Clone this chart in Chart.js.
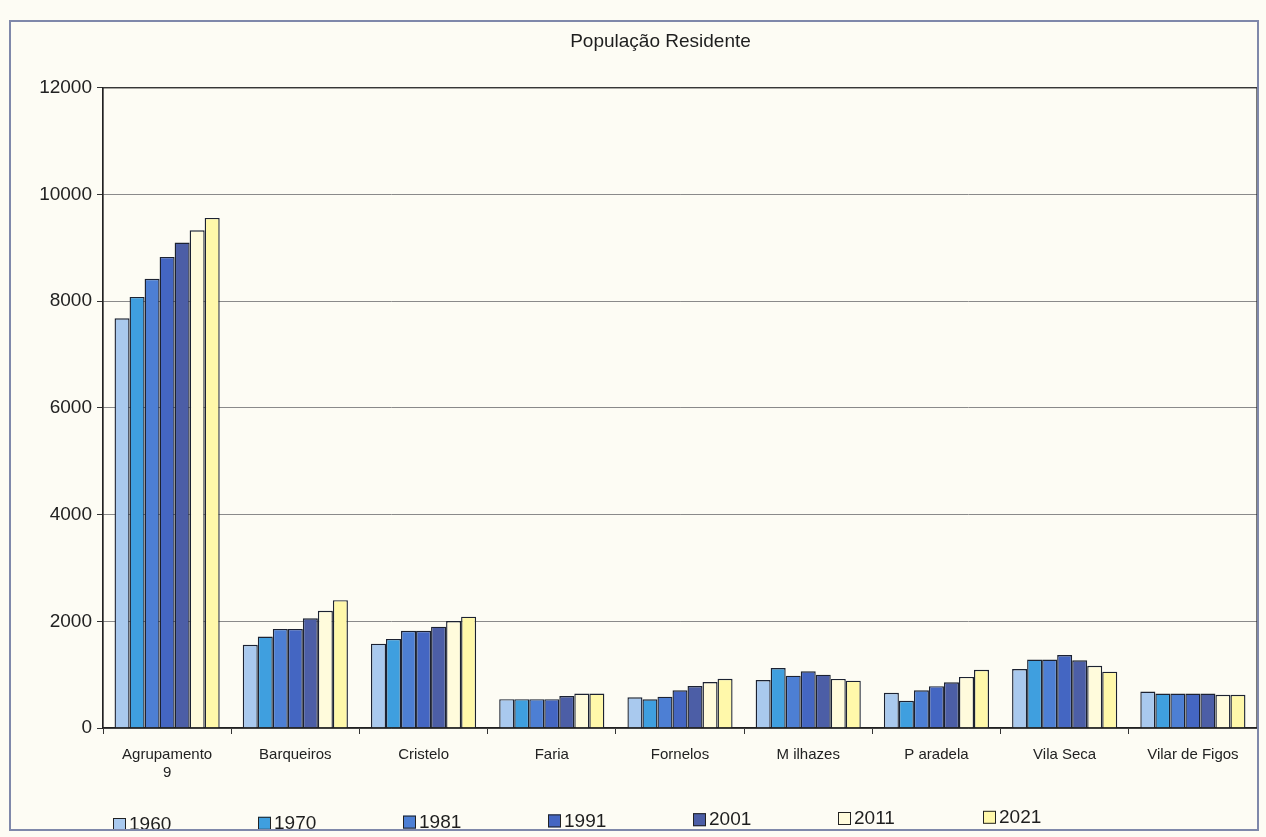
<!DOCTYPE html>
<html>
<head>
<meta charset="utf-8">
<script src="https://cdn.jsdelivr.net/npm/chart.js@4"></script>
<style>
  html, body { margin: 0; padding: 0; background: #fdfcf4; }
  #wrap { position: relative; width: 1266px; height: 837px; }
  #frame { position: absolute; left: 9px; top: 20px; width: 1250px; height: 811px;
           border: 2px solid #7f88aa; box-sizing: border-box; pointer-events: none; }
  canvas { position: absolute; left: 0; top: 0; }
</style>
</head>
<body>
<div id="wrap">
  <canvas id="chart" width="1266" height="837"></canvas>
  <div id="frame"></div>
</div>
<script>
/* População Residente — grouped bars, one series per census year */
const FREGUESIAS = [['Agrupamento', '9'], 'Barqueiros', 'Cristelo', 'Faria', 'Fornelos',
                    'M ilhazes', 'P aradela', 'Vila Seca', 'Vilar de Figos'];
const YEARS = ['1960', '1970', '1981', '1991', '2001', '2011', '2021'];
const Y_TICKS = [0, 2000, 4000, 6000, 8000, 10000, 12000];

const POP_1960 = [7680, 1560, 1580, 540, 576, 900, 660, 1104, 683];
const POP_1970 = [8080, 1715, 1670, 540, 539, 1124, 510, 1282, 646];
const POP_1981 = [8420, 1858, 1822, 540, 588, 981, 707, 1282, 646];
const POP_1991 = [8830, 1858, 1822, 540, 706, 1062, 784, 1368, 646];
const POP_2001 = [9100, 2056, 1900, 600, 786, 1000, 858, 1270, 646];
const POP_2011 = [9330, 2198, 2006, 645, 861, 919, 957, 1166, 621];
const POP_2021 = [9560, 2396, 2086, 645, 923, 888, 1092, 1055, 621];

const SERIES = [POP_1960, POP_1970, POP_1981, POP_1991, POP_2001, POP_2011, POP_2021];
const COLORS = ['#a9c9ee', '#3f9fdf', '#4d7fd4', '#4466c2', '#4c5ea6', '#fffbdc', '#fff8aa'];
const FONT = '"Liberation Sans", Arial, sans-serif';

// original title sits a little right of the page centre
const shiftTitle = {
  id: 'shiftTitle',
  afterLayout(chart) {
    if (chart.titleBlock) chart.titleBlock.left += 44;
  },
};

// frame around the plot area
const plotBox = {
  id: 'plotBox',
  afterDraw(chart) {
    const {ctx, chartArea: a} = chart;
    ctx.save();
    ctx.strokeStyle = '#222';
    ctx.lineWidth = 1.2;
    ctx.strokeRect(a.left, a.top, a.right - a.left, a.bottom - a.top);
    ctx.restore();
  },
};

// legend row spread along the bottom like the original
const spreadLegend = {
  id: 'spreadLegend',
  afterDraw(chart) {
    const {ctx} = chart;
    ctx.save();
    ctx.font = '19px ' + FONT;
    ctx.textBaseline = 'middle';
    ctx.textAlign = 'left';
    chart.data.datasets.forEach((ds, i) => {
      const x = 113 + i * 145;
      const y = 824 - i * 1.2;
      ctx.fillStyle = ds.backgroundColor;
      ctx.fillRect(x, y - 6, 13, 13);
      ctx.strokeStyle = '#222';
      ctx.lineWidth = 1;
      ctx.strokeRect(x + 0.5, y - 5.5, 12, 12);
      ctx.fillStyle = '#1e1e1e';
      ctx.fillText(ds.label, x + 16, y + 1);
    });
    ctx.restore();
  },
};

new Chart(document.getElementById('chart').getContext('2d'), {
  type: 'bar',
  data: {
    labels: FREGUESIAS,
    datasets: YEARS.map((yr, i) => ({
      label: yr,
      data: SERIES[i],
      backgroundColor: COLORS[i],
      borderColor: '#1c2232',
      borderWidth: 1.4,
      barPercentage: 1.0,
      categoryPercentage: 0.82,
    })),
  },
  options: {
    responsive: false,
    animation: false,
    layout: {padding: {left: 20, right: 9, top: 30, bottom: 20}},
    plugins: {
      legend: {display: false},
      tooltip: {enabled: false},
      title: {
        display: true,
        text: 'População Residente',
        color: '#1e1e1e',
        font: {family: FONT, size: 19, weight: 'normal'},
        padding: {top: 0, bottom: 35},
      },
    },
    scales: {
      x: {
        grid: {display: true, drawOnChartArea: false, tickLength: 6, color: '#333'},
        border: {color: '#222', width: 1.2},
        ticks: {color: '#222', font: {family: FONT, size: 15, lineHeight: 1.2}, padding: 12,
                maxRotation: 0, autoSkip: false},
        afterFit: (s) => { s.height = 89; },
      },
      y: {
        min: 0,
        max: 12000,
        afterBuildTicks: (s) => { s.ticks = Y_TICKS.map(v => ({value: v})); },
        grid: {color: '#8a8a8a', lineWidth: 1, tickLength: 6, tickColor: '#333'},
        border: {color: '#222', width: 1.2},
        ticks: {color: '#222', font: {family: FONT, size: 19}, padding: 5,
                callback: (v) => String(v)},
        afterFit: (s) => { s.width = 83; },
      },
    },
  },
  plugins: [shiftTitle, plotBox, spreadLegend],
});
</script>
</body>
</html>
